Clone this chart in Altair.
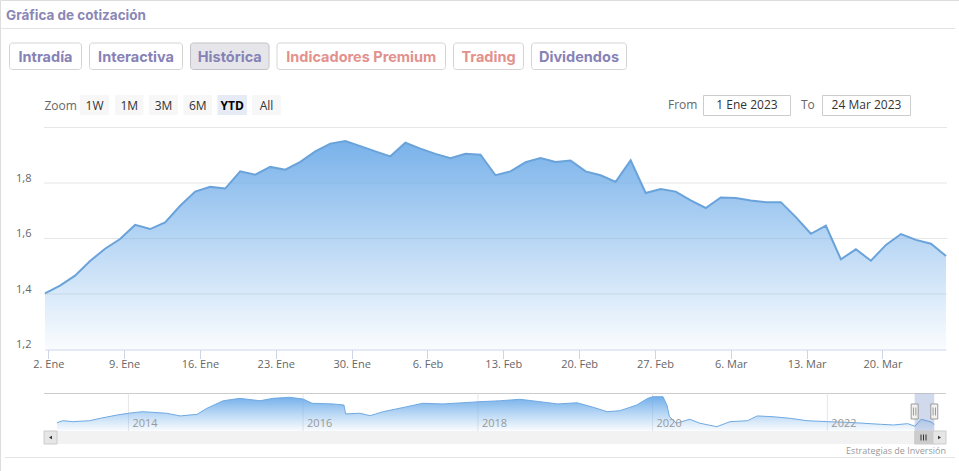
import altair as alt
import pandas as pd

# ---------------- data ----------------
# daily closes of the visible range (ordinal trading sessions up to 24 Mar 2023)
close = [1.402, 1.430, 1.466, 1.519, 1.563, 1.598, 1.649, 1.634, 1.658, 1.718,
         1.769, 1.786, 1.780, 1.842, 1.830, 1.858, 1.848, 1.876, 1.914, 1.942,
         1.951, 1.933, 1.914, 1.896, 1.945, 1.924, 1.905, 1.889, 1.905, 1.902,
         1.828, 1.842, 1.875, 1.890, 1.876, 1.881, 1.842, 1.828, 1.804, 1.882,
         1.764, 1.778, 1.769, 1.737, 1.710, 1.748, 1.746, 1.737, 1.731, 1.731,
         1.677, 1.617, 1.646, 1.525, 1.561, 1.520, 1.577, 1.616, 1.595, 1.581, 1.537]
tick_labels = ["2. Ene", "9. Ene", "16. Ene", "23. Ene", "30. Ene", "6. Feb",
               "13. Feb", "20. Feb", "27. Feb", "6. Mar", "13. Mar", "20. Mar"]
y_labels = [1.2, 1.4, 1.6, 1.8]
y_grid = [1.4, 1.6, 1.8, 2.0]

nav_dates = ["2013-03-08", "2013-04-01", "2013-05-15", "2013-07-22", "2013-09-05", "2013-11-15",
             "2014-01-01", "2014-03-01", "2014-06-10", "2014-08-05", "2014-10-15", "2014-11-25",
             "2015-02-01", "2015-04-12", "2015-07-05", "2015-08-28", "2015-11-05", "2016-01-01",
             "2016-02-08", "2016-05-05", "2016-06-20", "2016-06-27", "2016-08-25", "2016-10-08",
             "2016-12-01", "2017-03-10", "2017-05-15", "2017-08-08", "2017-10-30", "2018-01-10",
             "2018-04-05", "2018-06-25", "2018-09-17", "2018-12-01", "2019-02-20", "2019-04-28",
             "2019-06-25", "2019-08-17", "2019-10-27", "2019-12-12", "2020-01-01", "2020-02-14",
             "2020-03-01", "2020-03-12", "2020-04-10", "2020-06-05", "2020-07-17", "2020-09-26",
             "2020-11-20", "2021-02-01", "2021-03-14", "2021-05-19", "2021-07-30", "2021-10-08",
             "2022-01-01", "2022-03-25", "2022-05-31", "2022-08-11", "2022-10-05", "2022-12-03",
             "2023-01-02", "2023-01-28", "2023-03-10", "2023-03-24"]
nav_values = [1.67, 1.82, 1.75, 1.82, 2.00, 2.25,
              2.38, 2.50, 2.38, 2.18, 2.30, 2.75,
              3.32, 3.50, 3.32, 3.50, 3.58, 3.45,
              3.13, 3.08, 3.00, 2.33, 2.38, 2.20,
              2.50, 2.87, 3.13, 3.08, 3.17, 3.25,
              3.32, 3.43, 3.25, 3.08, 3.17, 2.83,
              2.50, 2.57, 3.00, 3.50, 3.62, 3.62,
              3.00, 2.12, 1.63, 1.93, 1.63, 1.37,
              1.75, 1.82, 2.18, 2.12, 2.00, 1.82,
              1.75, 1.70, 1.63, 1.55, 1.50, 1.60,
              1.40, 1.93, 1.73, 1.54]
nav_year_dates = ["2014-01-01", "2016-01-01", "2018-01-01", "2020-01-01", "2022-01-01"]
nav_year_labels = ["2014", "2016", "2018", "2020", "2022"]

range_from = "2023-01-01"
range_to = "2023-03-24"
range_from_label = "1 Ene 2023"
range_to_label = "24 Mar 2023"

tabs = ["Intradía", "Interactiva", "Histórica", "Indicadores Premium", "Trading", "Dividendos"]
zoom_buttons = ["1W", "1M", "3M", "6M", "YTD", "All"]
title_text = "Gráfica de cotización"
credits_text = "Estrategias de Inversión"

# ---------------- styles ----------------
PURPLE = "#8782b6"
SALMON = "#e2918c"
HC_FONT = "Open Sans"
HEAD_FONT = "Inter"
ONE = alt.Data(values=[{"k": 1}])


def box(x0, x1, y0, y1, fill, stroke=None, radius=0):
    kw = dict(fill=fill, cornerRadius=radius)
    if stroke:
        kw.update(stroke=stroke, strokeWidth=1)
    else:
        kw.update(strokeWidth=0)
    return alt.Chart(ONE).mark_rect(**kw).encode(
        x=alt.value(x0), x2=alt.value(x1), y=alt.value(y0), y2=alt.value(y1))


def label(x, y, text, size, color, font=HC_FONT, weight="normal", align="left"):
    return alt.Chart(ONE).mark_text(
        align=align, baseline="alphabetic", font=font, fontSize=size,
        fontWeight=weight, color=color).encode(
        x=alt.value(x), y=alt.value(y), text=alt.value(text))


def hline(x0, x1, y, color, width=1):
    return alt.Chart(ONE).mark_rule(color=color, strokeWidth=width).encode(
        x=alt.value(x0), x2=alt.value(x1), y=alt.value(y))


# ---------------- main chart ----------------
main_df = pd.DataFrame({"i": list(range(len(close))), "v": close})
grid_df = pd.DataFrame({"v": y_grid})

tick_start, tick_step = 0.22, 5.05
tick_pos = [round(tick_start + tick_step * k, 3) for k in range(len(tick_labels))]
lbl_arr = "[" + ",".join("'%s'" % t for t in tick_labels) + "]"

xaxis = alt.Axis(orient="bottom", offset=349.5 - 471, values=tick_pos, title=None,
                 labelExpr=f"{lbl_arr}[round((datum.value - {tick_start}) / {tick_step})]",
                 grid=False, domainColor="#ccd6eb", tickColor="#ccd6eb", tickSize=9,
                 labelPadding=6, labelBaseline="middle", labelFont=HC_FONT, labelFontSize=11,
                 labelColor="#666666", labelFlush=False, labelOverlap=False)
yaxis = alt.Axis(orient="left", offset=-44, values=y_labels, title=None, grid=False,
                 domain=False, ticks=False, tickSize=0, labelPadding=13,
                 labelExpr="replace(format(datum.value, '.1f'), '.', ',')",
                 labelBaseline="middle", labelOffset=-5, labelFont=HC_FONT,
                 labelFontSize=11, labelColor="#666666")

xs = alt.Scale(domain=[0, len(close) - 1], range=[45, 946], nice=False, zero=False)
ys = alt.Scale(domain=[1.2, 2.0], range=[349.5, 127.5], nice=False, zero=False)

grad = alt.Gradient(gradient="linear",
                    stops=[alt.GradientStop(color="rgba(116,175,233,0.97)", offset=0),
                           alt.GradientStop(color="rgba(124,181,236,0.04)", offset=1)],
                    x1=0, x2=0, y1=0, y2=1)

grid = alt.Chart(grid_df).mark_rule(color="#e6e6e6", strokeWidth=1).encode(
    y=alt.Y("v:Q", scale=ys, axis=yaxis), x=alt.value(44), x2=alt.value(947))
area = alt.Chart(main_df).mark_area(color=grad, opacity=1).encode(
    x=alt.X("i:Q", scale=xs, axis=xaxis),
    y=alt.Y("v:Q", scale=ys, axis=yaxis),
    y2=alt.datum(1.2))
line = alt.Chart(main_df).mark_line(color="#6aa2da", strokeWidth=2).encode(
    x=alt.X("i:Q", scale=xs, axis=xaxis),
    y=alt.Y("v:Q", scale=ys, axis=yaxis))
main = alt.layer(grid, area, line)

# ---------------- navigator ----------------
def ms(s):
    return int(pd.Timestamp(s).value // 10**6)

nxs = alt.Scale(domain=[ms("2013-01-13"), ms("2023-05-12")], range=[44, 946])
nys = alt.Scale(domain=[1.07, 3.88], range=[430.7, 393.3], nice=False, zero=False)
nav_df = pd.DataFrame({"d": nav_dates, "p": nav_values})
years_df = pd.DataFrame({"d": nav_year_dates, "lbl": nav_year_labels})
sel_df = pd.DataFrame({"start": [range_from], "end": [range_to]})
edge_df = pd.DataFrame({"d": [range_from, range_to]})

ngrad = alt.Gradient(gradient="linear",
                     stops=[alt.GradientStop(color="rgba(110,172,233,0.97)", offset=0),
                            alt.GradientStop(color="rgba(124,181,236,0.05)", offset=1)],
                     x1=0, x2=0, y1=0, y2=1)

ngrid = alt.Chart(years_df).mark_rule(color="#e6e6e6").encode(
    x=alt.X("d:T", scale=nxs, axis=None), y=alt.value(393.5), y2=alt.value(431))
narea = alt.Chart(nav_df).mark_area(color=ngrad, opacity=1).encode(
    x=alt.X("d:T", scale=nxs, axis=None),
    y=alt.Y("p:Q", scale=nys, axis=None), y2=alt.datum(1.07))
nline = alt.Chart(nav_df).mark_line(color="#6fa9e2", strokeWidth=1).encode(
    x=alt.X("d:T", scale=nxs, axis=None),
    y=alt.Y("p:Q", scale=nys, axis=None))
nyears = alt.Chart(years_df).mark_text(align="left", baseline="alphabetic", dx=4,
                                       font=HC_FONT, fontSize=11, color="#999999").encode(
    x=alt.X("d:T", scale=nxs, axis=None), y=alt.value(426.7), text="lbl:N")
mask = alt.Chart(sel_df).mark_rect(fill="rgba(102,133,194,0.3)", strokeWidth=0).encode(
    x=alt.X("start:T", scale=nxs, axis=None), x2="end:T",
    y=alt.value(393.5), y2=alt.value(431))
thumb = alt.Chart(sel_df).mark_rect(fill="#cccccc", stroke="#cccccc", strokeWidth=1).encode(
    x=alt.X("start:T", scale=nxs, axis=None), x2="end:T",
    y=alt.value(431), y2=alt.value(444))
handles = alt.Chart(edge_df).mark_rect(fill="#f2f2f2", stroke="#999999", strokeWidth=1,
                                       xOffset=-3.5, x2Offset=3.5).encode(
    x=alt.X("d:T", scale=nxs, axis=None), x2="d:T",
    y=alt.value(404), y2=alt.value(419))
hl1 = alt.Chart(edge_df).mark_rule(color="#999999", xOffset=-1.2).encode(
    x=alt.X("d:T", scale=nxs, axis=None), y=alt.value(407.5), y2=alt.value(415.5))
hl2 = alt.Chart(edge_df).mark_rule(color="#999999", xOffset=1.2).encode(
    x=alt.X("d:T", scale=nxs, axis=None), y=alt.value(407.5), y2=alt.value(415.5))
nav = alt.layer(ngrid, narea, nline, nyears, mask, thumb, handles, hl1, hl2)

# ---------------- UI pieces ----------------
ui = []
ui.append(label(6, 20, title_text, 13.5, "#8a87b6", HEAD_FONT, 700))
ui.append(hline(0, 955, 28.5, "#e3e3e3"))

tab_x = [(9.5, 81.5), (89.5, 182.5), (190.5, 269), (277, 445.5), (453.5, 523.5), (531.5, 626.5)]
tab_colors = [PURPLE, PURPLE, PURPLE, SALMON, SALMON, PURPLE]
for name, (a, b), col in zip(tabs, tab_x, tab_colors):
    selected = name == "Histórica"
    ui.append(box(a, b, 43, 69.5, "#e6e6ea" if selected else "#ffffff",
                  "#c2c2c8" if selected else "#d4d4d4", 3))
    ui.append(label((a + b) / 2, 61.5, name, 14.5, col, HEAD_FONT, 700, "center"))

ui.append(label(44.5, 109.5, "Zoom", 12, "#666666"))
zb_x = [(80, 109), (115, 143.5), (149, 178), (183.5, 212), (217.5, 247), (252, 281)]
for name, (a, b) in zip(zoom_buttons, zb_x):
    sel = name == "YTD"
    ui.append(box(a, b, 95, 115, "#e6ebf5" if sel else "#f7f7f7"))
    ui.append(label((a + b) / 2, 109.5, name, 12, "#000000" if sel else "#333333",
                    HC_FONT, "bold" if sel else "normal", "center"))

ui.append(label(668, 109, "From", 12, "#666666"))
ui.append(box(703.5, 790.5, 95.5, 115.5, "#ffffff", "#cccccc"))
ui.append(label(747, 109, range_from_label, 12, "#333333", align="center"))
ui.append(label(801, 109, "To", 12, "#666666"))
ui.append(box(822.5, 910.5, 95.5, 115.5, "#ffffff", "#cccccc"))
ui.append(label(866.5, 109, range_to_label, 12, "#333333", align="center"))

# scrollbar / navigator frame (drawn before the navigator content)
frame = []
frame.append(box(44, 946, 431, 444, "#f2f2f2"))
frame.append(hline(44, 946, 393.5, "#cccccc"))

after = []
after.append(box(44, 57, 431, 444, "#e6e6e6", "#cccccc"))
after.append(box(933, 946, 431, 444, "#e6e6e6", "#cccccc"))
after.append(alt.Chart(ONE).mark_point(shape="triangle-left", filled=True, size=12,
                                       color="#333333", opacity=1).encode(
    x=alt.value(50.5), y=alt.value(437.5)))
after.append(alt.Chart(ONE).mark_point(shape="triangle-right", filled=True, size=12,
                                       color="#333333", opacity=1).encode(
    x=alt.value(939.5), y=alt.value(437.5)))
for gx in (921, 923.5, 926):
    after.append(alt.Chart(ONE).mark_rule(color="#333333").encode(
        x=alt.value(gx), y=alt.value(434.5), y2=alt.value(440.5)))
after.append(label(946, 453.5, credits_text, 9, "#999999", align="right"))
after.append(hline(5, 955, 457.5, "#e3e3e3"))

chart = alt.layer(*frame, main, nav, *ui, *after).resolve_scale(
    x="independent", y="independent"
).properties(
    width=959, height=471, autosize=alt.AutoSizeParams(type="none"), padding=0
).configure_view(stroke=None).configure(background="#ffffff")

chart.save("out.html", embed_options={"renderer": "svg", "actions": False})
